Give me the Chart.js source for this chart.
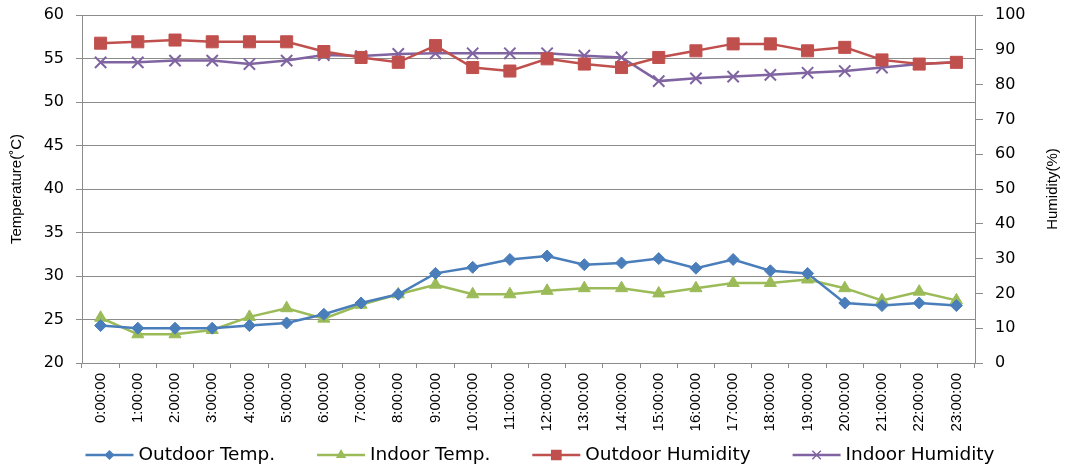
<!DOCTYPE html>
<html>
<head>
<meta charset="utf-8">
<script src="https://cdn.jsdelivr.net/npm/chart.js@4.4.1/dist/chart.umd.min.js"></script>
<style>
  html, body { margin: 0; padding: 0; background: #fff; }
  #wrap { width: 1070px; height: 468px; }
</style>
</head>
<body>
<div id="wrap"><canvas id="chart" width="1070" height="468"></canvas></div>
<script>
// hours of the day
const hours = ["0:00:00", "1:00:00", "2:00:00", "3:00:00", "4:00:00", "5:00:00", "6:00:00", "7:00:00",
  "8:00:00", "9:00:00", "10:00:00", "11:00:00", "12:00:00", "13:00:00", "14:00:00", "15:00:00",
  "16:00:00", "17:00:00", "18:00:00", "19:00:00", "20:00:00", "21:00:00", "22:00:00", "23:00:00"];

// temperatures (left axis, deg C)
const outdoorTemp = [24.3, 24.0, 24.0, 24.0, 24.3, 24.6, 25.6, 26.9, 27.9, 30.3, 31.0, 31.9,
  32.3, 31.3, 31.5, 32.0, 30.9, 31.9, 30.6, 30.3, 26.9, 26.6, 26.9, 26.6];
const indoorTemp = [25.2, 23.3, 23.3, 23.8, 25.3, 26.3, 25.1, 26.7, 27.9, 29.0, 27.9, 27.9,
  28.3, 28.6, 28.6, 28.0, 28.6, 29.2, 29.2, 29.6, 28.6, 27.2, 28.2, 27.2];

// humidity (right axis, %)
const outdoorHumidity = [91.9, 92.3, 92.8, 92.3, 92.3, 92.3, 89.5, 87.8, 86.4, 91.2, 84.9, 83.9,
  87.4, 85.9, 84.9, 87.8, 89.7, 91.7, 91.7, 89.7, 90.7, 87.1, 85.9, 86.4];
const indoorHumidity = [86.4, 86.4, 86.9, 86.9, 85.9, 86.9, 88.5, 88.2, 88.8, 89.0, 89.0, 89.0,
  89.0, 88.3, 87.8, 81.0, 81.8, 82.3, 82.8, 83.4, 83.9, 84.9, 85.9, 86.4];

const tempTicks = { min: 20, max: 60, step: 5 };
const humTicks = { min: 0, max: 100, step: 10 };
const tempTitle = "Temperature(\u02daC)";
const humTitle = "Humidity(%)";

const series = [
  { label: "Outdoor Temp.", data: outdoorTemp, color: "#4a7ebb", style: "rectRot", r: 6, axis: "y", legendR: 4 },
  { label: "Indoor Temp.", data: indoorTemp, color: "#9bbb59", style: "triangle", r: 7, axis: "y", legendR: 4.5 },
  { label: "Outdoor Humidity", data: outdoorHumidity, color: "#c0504d", style: "rect", r: 8.5, axis: "y1", legendR: 6.5 },
  { label: "Indoor Humidity", data: indoorHumidity, color: "#8064a2", style: "crossRot", r: 8, axis: "y1", legendR: 6 }
];

const datasets = series.map(s => ({
  label: s.label,
  data: s.data,
  yAxisID: s.axis,
  borderColor: s.color,
  backgroundColor: s.color,
  borderWidth: 2.5,
  tension: 0,
  pointStyle: s.style,
  pointRadius: s.r,
  pointBorderWidth: s.style === "crossRot" ? 2 : 1,
  pointBackgroundColor: s.color,
  pointBorderColor: s.color
}));

// excel style legend (line with marker) + right axis title read bottom-to-top
const excelLegend = {
  id: "excelLegend",
  afterDraw(chart) {
    const ctx = chart.ctx;
    const lineLen = 48, gap = 5, spacing = 42;
    ctx.save();
    ctx.font = "18.5px 'DejaVu Sans'";
    const widths = series.map(s => ctx.measureText(s.label).width);
    const total = widths.reduce((a, w) => a + lineLen + gap + w, 0) + spacing * (series.length - 1);
    let x = (chart.width - total) / 2 + 5;
    const y = 455;
    series.forEach((s, i) => {
      ctx.strokeStyle = s.color;
      ctx.fillStyle = s.color;
      ctx.lineWidth = 2.5;
      ctx.beginPath();
      ctx.moveTo(x, y);
      ctx.lineTo(x + lineLen, y);
      ctx.stroke();
      ctx.lineWidth = 1.5;
      Chart.helpers.drawPoint(ctx, { pointStyle: s.style, radius: s.legendR, rotation: 0, borderWidth: 1.5 }, x + lineLen / 2, y);
      ctx.fillStyle = "#000";
      ctx.textBaseline = "middle";
      ctx.textAlign = "left";
      ctx.fillText(s.label, x + lineLen + gap, y);
      x += lineLen + gap + widths[i] + spacing;
    });

    const area = chart.chartArea;
    ctx.translate(1053, (area.top + area.bottom) / 2);
    ctx.rotate(-Math.PI / 2);
    ctx.font = "15px 'Liberation Sans'";
    ctx.textAlign = "center";
    ctx.textBaseline = "middle";
    ctx.fillText(humTitle, 0, 0);
    ctx.restore();
  }
};

new Chart(document.getElementById("chart"), {
  type: "line",
  data: { labels: hours, datasets: datasets },
  plugins: [excelLegend],
  options: {
    responsive: false,
    animation: false,
    layout: { padding: { top: 15, left: 0, right: 0, bottom: 28 } },
    plugins: {
      tooltip: { enabled: false },
      legend: { display: false }
    },
    scales: {
      x: {
        offset: true,
        grid: { offset: true, drawOnChartArea: false, drawTicks: true, tickLength: 5, color: "#8c8c8c" },
        border: { color: "#8c8c8c" },
        ticks: {
          autoSkip: false, maxRotation: 90, minRotation: 90, padding: 5,
          color: "#000", font: { family: "Liberation Sans", size: 15 }
        },
        afterFit: scale => { scale.height = 77; }
      },
      y: {
        position: "left",
        min: tempTicks.min, max: tempTicks.max,
        ticks: { stepSize: tempTicks.step, padding: 12, color: "#000", font: { family: "DejaVu Sans", size: 16 } },
        grid: { color: "#8c8c8c", tickLength: 6 },
        border: { color: "#8c8c8c" },
        title: { display: true, text: tempTitle, color: "#000", padding: { top: 8, bottom: 0 },
          font: { family: "Liberation Sans", size: 15 } },
        afterFit: scale => { scale.width = 82; scale.paddingTop = 0; }
      },
      y1: {
        position: "right",
        min: humTicks.min, max: humTicks.max,
        ticks: { stepSize: humTicks.step, padding: 12, color: "#000", font: { family: "DejaVu Sans", size: 16 } },
        grid: { drawOnChartArea: false, color: "#8c8c8c", tickLength: 8 },
        border: { color: "#8c8c8c" },
        afterFit: scale => { scale.width = 95; scale.paddingTop = 0; }
      }
    }
  }
});
</script>
</body>
</html>
